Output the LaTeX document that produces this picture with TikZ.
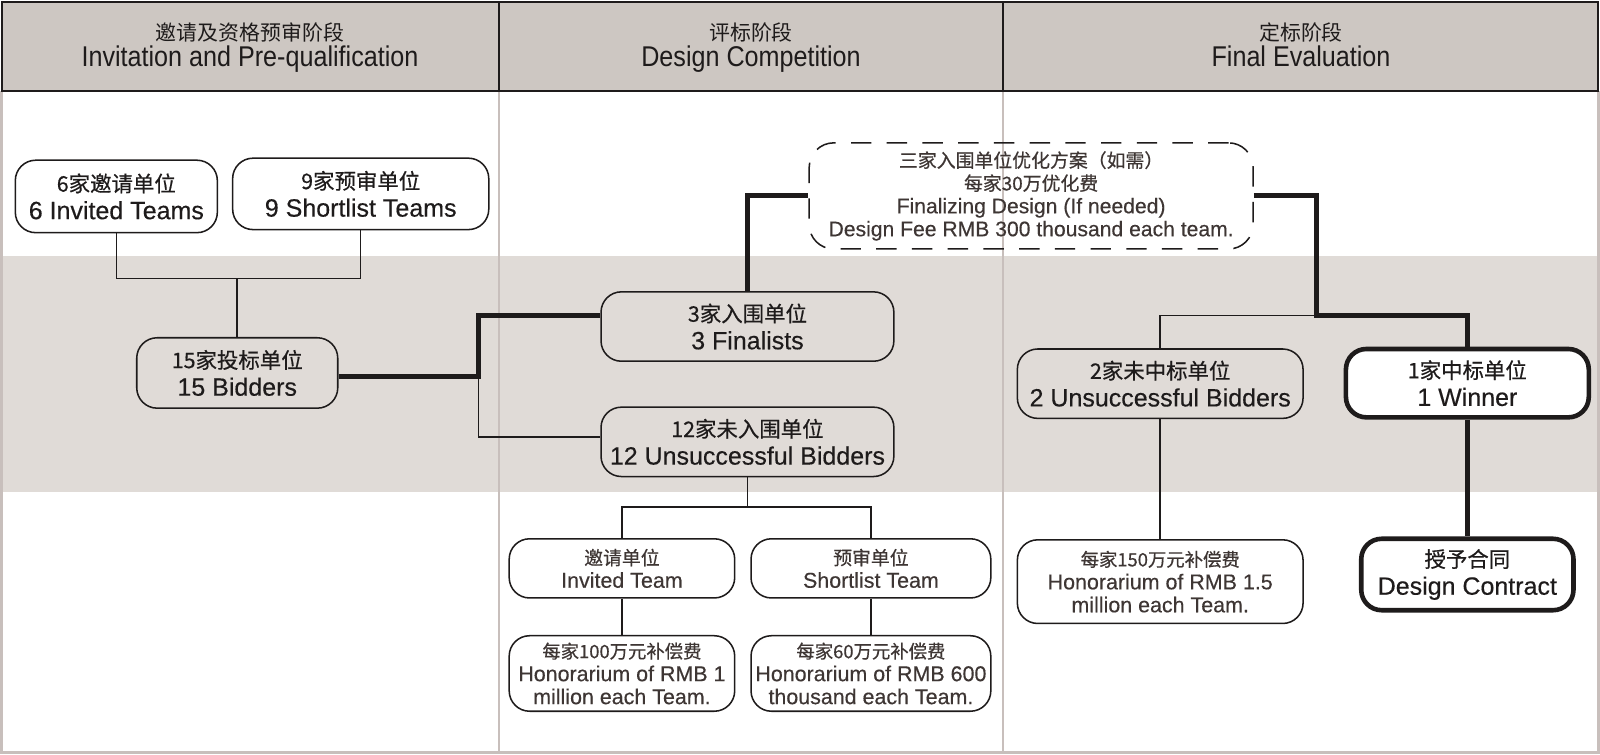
\documentclass[tikz,border=0pt]{standalone}
\usepackage{fontspec}
\setmainfont{Liberation Sans}[FakeBold=0.35]
\newfontfamily\cjk{Noto Sans CJK SC}[FakeBold=0.5]
\newfontfamily\hdrlat{Liberation Sans}
\newfontfamily\hdrcjk{Noto Sans CJK SC}
\definecolor{hdr}{RGB}{205,199,194}
\definecolor{band}{RGB}{224,219,215}
\definecolor{coln}{RGB}{200,191,188}
\definecolor{ink}{RGB}{30,27,27}
\definecolor{soft}{RGB}{62,54,52}
\newcommand\ZH[2]{{\cjk\fontsize{#1}{#1}\selectfont #2}}
\tikzset{
  box/.style={draw=ink, line width=1.5pt, rounded corners=20pt, align=center, inner sep=0pt, text=ink},
  bigbox/.style={box, font=\fontsize{24.5}{27}\selectfont},
  smallbox/.style={box, text=soft, fill=white, font=\fontsize{21}{22.5}\selectfont},
  winbox/.style={bigbox, line width=4.5pt, fill=white},
  dashbox/.style={box, text=soft, dash pattern=on 20pt off 15pt, rounded corners=24pt, font=\fontsize{20.7}{22.5}\selectfont},
  hdrzh/.style={anchor=base, text=ink, inner sep=0pt, font=\hdrcjk\fontsize{20.5}{20.5}\selectfont},
  hdren/.style={anchor=base, text=ink, inner sep=0pt, font=\hdrlat\fontsize{28}{28}\selectfont},
  thin/.style={draw=ink, line width=1.5pt},
  thick/.style={draw=ink, line width=5pt}
}
\begin{document}
\begin{tikzpicture}[x=1pt,y=-1pt]
\useasboundingbox (0,0) rectangle (1568,739);
\fill[white] (0,0) rectangle (1568,739);
% gray band
\fill[band] (2,251) rectangle (1566,482);
% column lines and body border
\draw[coln, line width=2pt] (489,89) -- (489,739);
\draw[coln, line width=2pt] (983,89) -- (983,739);
\draw[coln, line width=2.5pt] (1.5,89) -- (1.5,737.5) -- (1566.5,737.5) -- (1566.5,89);
% header
\fill[hdr] (2,2) rectangle (1566,89);
\draw[ink, line width=1.8pt] (2,2) rectangle (1566,89);
\draw[ink, line width=1.8pt] (489,2) -- (489,89);
\draw[ink, line width=1.8pt] (983,2) -- (983,89);
\node[hdrzh] (h1z) at (245,39.5) {邀请及资格预审阶段};
\node[hdren] (h1e) at (245,65) {\scalebox{0.88}[1]{Invitation and Pre-qualification}};
\node[hdrzh] (h2z) at (736,39.5) {评标阶段};
\node[hdren] (h2e) at (736,65) {\scalebox{0.88}[1]{Design Competition}};
\node[hdrzh] (h3z) at (1275,39.5) {定标阶段};
\node[hdren] (h3e) at (1275,65) {\scalebox{0.88}[1]{Final Evaluation}};

% nodes
\node[bigbox, fill=white, minimum width=198pt, minimum height=71pt] (n1) at (114,192.5) {\ZH{21}{6家邀请单位}\\6 Invited Teams};
\node[bigbox, fill=white, minimum width=251pt, minimum height=70pt] (n2) at (353.5,190) {\ZH{21}{9家预审单位}\\9 Shortlist Teams};
\node[bigbox, minimum width=197pt, minimum height=69pt] (n3) at (232.5,365.5) {\ZH{21}{15家投标单位}\\15 Bidders};
\node[bigbox, minimum width=287pt, minimum height=68pt] (n4) at (732.5,320) {\ZH{21}{3家入围单位}\\3 Finalists};
\node[bigbox, minimum width=287pt, minimum height=68pt] (n5) at (732.5,433) {\ZH{21}{12家未入围单位}\\12 Unsuccessful Bidders};
\node[smallbox, minimum width=221pt, minimum height=58pt] (n6) at (609.5,557) {\ZH{18.5}{邀请单位}\\Invited Team};
\node[smallbox, minimum width=235pt, minimum height=58pt] (n7) at (853.5,557) {\ZH{18.5}{预审单位}\\Shortlist Team};
\node[smallbox, minimum width=221pt, minimum height=74pt] (n8) at (609.5,660) {\ZH{18}{每家100万元补偿费}\\Honorarium of RMB 1\\million each Team.};
\node[smallbox, minimum width=235pt, minimum height=74pt] (n9) at (853.5,660) {\ZH{18}{每家60万元补偿费}\\Honorarium of RMB 600\\thousand each Team.};
\node[dashbox, minimum width=435pt, minimum height=104pt] (n10) at (1010.5,192) {\ZH{18.5}{三家入围单位优化方案（如需）}\\\ZH{18.5}{每家30万优化费}\\Finalizing Design (If needed)\\Design Fee RMB 300 thousand each team.};
\node[bigbox, minimum width=280pt, minimum height=68pt] (n11) at (1137,376) {\ZH{21}{2家未中标单位}\\2 Unsuccessful Bidders};
\node[winbox, minimum width=238pt, minimum height=67pt] (n12) at (1438,375.5) {\ZH{21}{1家中标单位}\\1 Winner};
\node[smallbox, minimum width=280pt, minimum height=82pt] (n13) at (1137,570) {\ZH{18}{每家150万元补偿费}\\Honorarium of RMB 1.5\\million each Team.};
\node[winbox, minimum width=208pt, minimum height=70pt] (n14) at (1438,563) {\ZH{21}{授予合同}\\Design Contract};

% connectors
\coordinate (j1) at (232.5,273);
\draw[thin] (n1.south) |- (j1) -| (n2.south);
\draw[thin] (j1) -- (n3.north);
\coordinate (j2) at (469,369);
\draw[thick] ([yshift=-3.5pt]n3.east) -- (j2) |- ([yshift=11pt]n4.west);
\draw[thin] (j2) |- ([yshift=5pt]n5.west);
\draw[thick] (n4.north) |- (n10.west);
\coordinate (j3) at (732.5,497);
\draw[thin] (n5.south) -- (j3);
\draw[thin] (n6.north) |- (j3) -| (n7.north);
\draw[thin] (n6.south) -- (n8.north);
\draw[thin] (n7.south) -- (n9.north);
\coordinate (j4) at (1290,309);
\draw[thick] (n10.east) -| (j4) -| (n12.north);
\draw[thin] (j4) -| (n11.north);
\draw[thin] (n11.south) -- (n13.north);
\draw[thick] (n12.south) -- (n14.north);
\end{tikzpicture}
\end{document}
